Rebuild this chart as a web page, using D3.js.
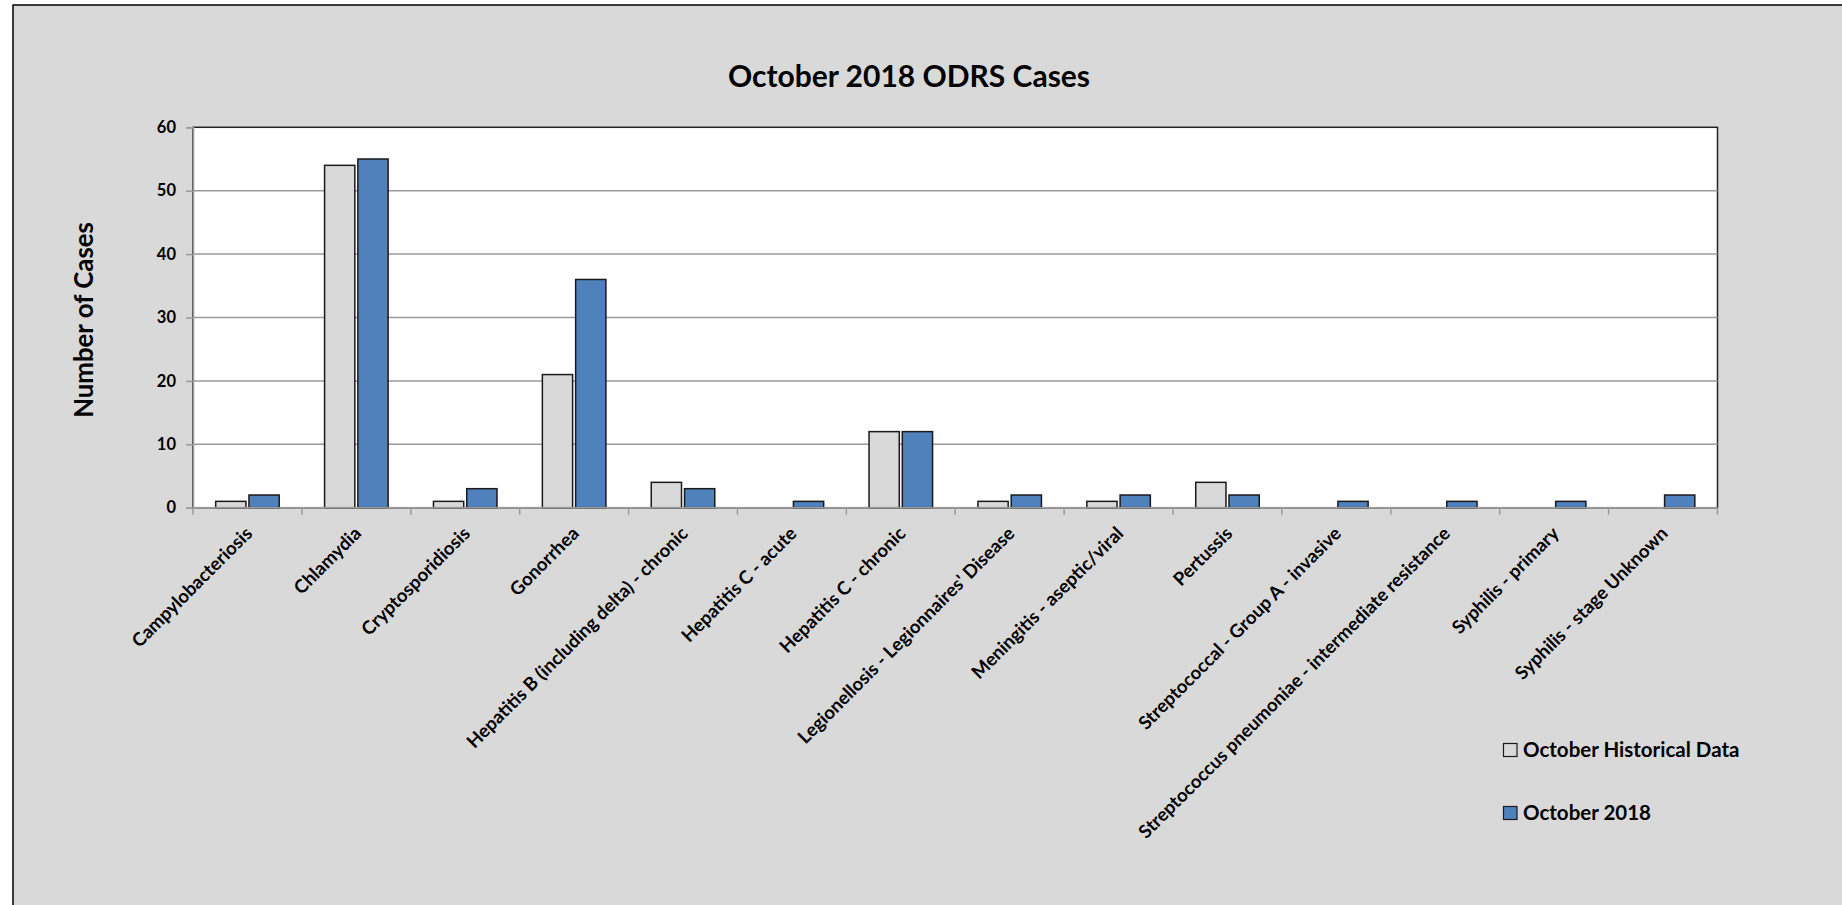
<!DOCTYPE html>
<html>
<head>
<meta charset="utf-8">
<script src="https://cdn.jsdelivr.net/npm/d3@7"></script>
<style>
  html, body { margin: 0; padding: 0; background: #ffffff; }
  svg { display: block; }
  text { font-family: Lato, "Open Sans", "DejaVu Sans", sans-serif; font-weight: 700; fill: #000; }
</style>
</head>
<body>
<svg id="chart" width="1842" height="905"></svg>
<script>
// Reportable disease cases, October 2018 vs. October historical average
const categories = [
  "Campylobacteriosis",
  "Chlamydia",
  "Cryptosporidiosis",
  "Gonorrhea",
  "Hepatitis B (including delta) - chronic",
  "Hepatitis C - acute",
  "Hepatitis C - chronic",
  "Legionellosis - Legionnaires' Disease",
  "Meningitis - aseptic/viral",
  "Pertussis",
  "Streptococcal - Group A - invasive",
  "Streptococcus pneumoniae - intermediate resistance",
  "Syphilis - primary",
  "Syphilis - stage Unknown"
];
const historical = [1, 54, 1, 21, 4, 0, 12, 1, 1, 4, 0, 0, 0, 0];
const october2018 = [2, 55, 3, 36, 3, 1, 12, 2, 2, 2, 1, 1, 1, 2];
const seriesNames = ["October Historical Data", "October 2018"];
const seriesColors = ["#d9d9d9", "#4f81bd"];
const yTicks = [0, 10, 20, 30, 40, 50, 60];
const titleText = "October 2018 ODRS Cases";
const yTitle = "Number of Cases";

const svg = d3.select("#chart");

// chart area background with its frame
svg.append("rect")
  .attr("x", 13).attr("y", 5)
  .attr("width", 1842).attr("height", 905)
  .attr("fill", "#d9d9d9")
  .attr("stroke", "#000").attr("stroke-width", 1.5);

const plot = { left: 193, right: 1717.5, top: 127.3, bottom: 507.7 };

const x = d3.scaleBand().domain(categories).range([plot.left, plot.right]);
const y = d3.scaleLinear().domain([0, 60]).range([plot.bottom, plot.top]);

const bw = x.bandwidth();
const barW = bw / 3.6;
const barGap = barW * 0.1;
const groupOffset = (bw - 2 * barW - barGap) / 2;
const xs = d3.scaleOrdinal().domain(seriesNames)
  .range([groupOffset, groupOffset + barW + barGap]);

// plot area
svg.append("rect")
  .attr("x", plot.left).attr("y", plot.top)
  .attr("width", plot.right - plot.left).attr("height", plot.bottom - plot.top)
  .attr("fill", "#ffffff")
  .attr("stroke", "#222").attr("stroke-width", 1.5);

// horizontal gridlines
svg.append("g")
  .selectAll("line")
  .data(yTicks.filter(t => t > 0 && t < 60))
  .join("line")
  .attr("x1", plot.left).attr("x2", plot.right)
  .attr("y1", d => y(d)).attr("y2", d => y(d))
  .attr("stroke", "#9a9a9a").attr("stroke-width", 1.5);

// bars
const rows = categories.map((c, i) => ({ cat: c, values: [historical[i], october2018[i]] }));
const groups = svg.append("g").selectAll("g")
  .data(rows)
  .join("g")
  .attr("transform", d => `translate(${x(d.cat)},0)`);

groups.selectAll("rect")
  .data(d => d.values.map((v, j) => ({ key: seriesNames[j], value: v, color: seriesColors[j] })).filter(e => e.value > 0))
  .join("rect")
  .attr("x", d => xs(d.key))
  .attr("y", d => y(d.value))
  .attr("width", barW)
  .attr("height", d => y(0) - y(d.value))
  .attr("fill", d => d.color)
  .attr("stroke", "#1a1a1a").attr("stroke-width", 1.5);

// y axis
const yAxis = svg.append("g")
  .attr("transform", `translate(${plot.left},0)`)
  .call(d3.axisLeft(y).tickValues(yTicks).tickSize(7).tickPadding(10));
yAxis.select(".domain").attr("stroke", "#9a9a9a").attr("stroke-width", 1.5);
yAxis.selectAll(".tick line").attr("stroke", "#9a9a9a").attr("stroke-width", 1.5);
yAxis.selectAll(".tick text")
  .attr("font-family", null).attr("font-size", 16).style("font-size", "16.5px");

// x axis: ticks at category boundaries
const boundaries = categories.map(c => x(c)).concat([plot.right]);
svg.append("line")
  .attr("x1", plot.left).attr("x2", plot.right)
  .attr("y1", plot.bottom).attr("y2", plot.bottom)
  .attr("stroke", "#9a9a9a").attr("stroke-width", 1.5);
svg.append("g").selectAll("line")
  .data(boundaries)
  .join("line")
  .attr("x1", d => d).attr("x2", d => d)
  .attr("y1", plot.bottom).attr("y2", plot.bottom + 7)
  .attr("stroke", "#9a9a9a").attr("stroke-width", 1.5);

svg.append("g").selectAll("text")
  .data(categories)
  .join("text")
  .attr("transform", d => `translate(${x(d) + bw / 2 + 1},${plot.bottom + 22}) rotate(-45)`)
  .attr("text-anchor", "end")
  .attr("dominant-baseline", "central")
  .style("font-size", "18.5px")
  .text(d => d);

// titles
svg.append("text")
  .attr("x", 909).attr("y", 86.7)
  .attr("text-anchor", "middle")
  .style("font-size", "30px")
  .text(titleText);

svg.append("text")
  .attr("transform", `translate(93,320) rotate(-90)`)
  .attr("text-anchor", "middle")
  .style("font-size", "25.8px")
  .text(yTitle);

// legend
const legend = svg.append("g").selectAll("g")
  .data(seriesNames)
  .join("g")
  .attr("transform", (d, i) => `translate(1503.5,${743.5 + i * 63})`);
legend.append("rect")
  .attr("width", 13.5).attr("height", 13)
  .attr("fill", (d, i) => seriesColors[i])
  .attr("stroke", "#1a1a1a").attr("stroke-width", 1.2);
legend.append("text")
  .attr("x", 19.5).attr("y", 13)
  .style("font-size", "20.5px")
  .text(d => d);
</script>
</body>
</html>
